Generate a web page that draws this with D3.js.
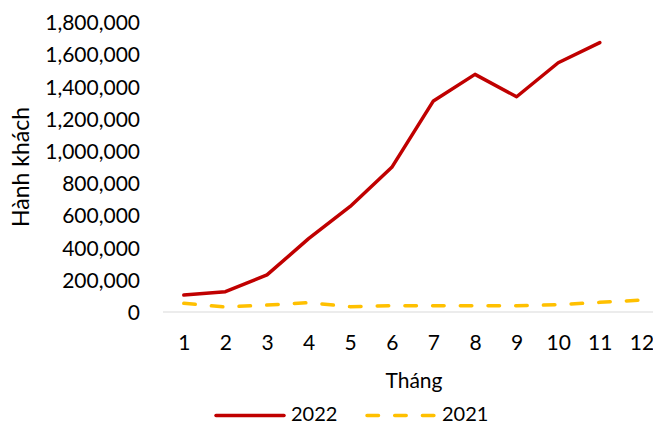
<!DOCTYPE html>
<html>
<head>
<meta charset="utf-8">
<script src="https://cdn.jsdelivr.net/npm/d3@7"></script>
<style>
  html, body { margin: 0; padding: 0; background: #fff; }
  svg text { font-family: Lato, "Open Sans", sans-serif; fill: #000; }
</style>
</head>
<body>
<svg id="chart" width="653" height="425"></svg>
<script>
// Monthly passenger counts
const months = ["1", "2", "3", "4", "5", "6", "7", "8", "9", "10", "11", "12"];
const values2022 = [105000, 126000, 230000, 455000, 655000, 898000, 1310000, 1475000, 1336000, 1547000, 1672000];
const values2021 = [54000, 31000, 43000, 58000, 33000, 39000, 39000, 38000, 39000, 45000, 60000, 74000];
const yTicks = [0, 200000, 400000, 600000, 800000, 1000000, 1200000, 1400000, 1600000, 1800000];
const seriesNames = ["2022", "2021"];
const yTitle = "Hành khách";
const xTitle = "Tháng";

const svg = d3.select("#chart");

const x = d3.scalePoint()
  .domain(months)
  .range([163, 163 + 12 * 41.6])
  .padding(0.5);

const y = d3.scaleLinear()
  .domain([0, 1800000])
  .range([312, 22]);

const fmt = d3.format(",");

// baseline at zero
svg.append("line")
  .attr("x1", 163).attr("x2", 163 + 12 * 41.6)
  .attr("y1", y(0)).attr("y2", y(0))
  .attr("stroke", "#d9d9d9").attr("stroke-width", 1.2);

// y axis tick labels
const yAxis = d3.axisLeft(y).tickValues(yTicks).tickFormat(fmt).tickSize(0).tickPadding(0);
const gy = svg.append("g").attr("transform", "translate(140,0)").call(yAxis);
gy.select(".domain").remove();
gy.selectAll("text")
  .style("font-family", "Lato, 'Open Sans', sans-serif")
  .attr("font-size", 21)
  .attr("dy", "0.36em");

// x axis tick labels
const xAxis = d3.axisBottom(x).tickSize(0).tickPadding(0);
const gx = svg.append("g").attr("transform", "translate(0,335)").call(xAxis);
gx.select(".domain").remove();
gx.selectAll("text")
  .style("font-family", "Lato, 'Open Sans', sans-serif")
  .attr("font-size", 21)
  .attr("dy", "0.72em");

// axis titles
svg.append("text")
  .attr("transform", "translate(29,167) rotate(-90)")
  .attr("text-anchor", "middle")
  .attr("font-size", 23)
  .text(yTitle);

svg.append("text")
  .attr("x", 414).attr("y", 388)
  .attr("text-anchor", "middle")
  .attr("font-size", 21)
  .text(xTitle);

const line = d3.line()
  .x((d, i) => x(months[i]))
  .y(d => y(d));

svg.append("path")
  .datum(values2021)
  .attr("d", line)
  .attr("fill", "none")
  .attr("stroke", "#ffc000")
  .attr("stroke-width", 3.5)
  .attr("stroke-linecap", "round")
  .attr("stroke-linejoin", "round")
  .attr("stroke-dasharray", "11.5,16.2");

svg.append("path")
  .datum(values2022)
  .attr("d", line)
  .attr("fill", "none")
  .attr("stroke", "#c00000")
  .attr("stroke-width", 3.5)
  .attr("stroke-linecap", "round")
  .attr("stroke-linejoin", "round");

// legend
const legend = svg.append("g");
legend.append("line")
  .attr("x1", 216).attr("x2", 284).attr("y1", 415.5).attr("y2", 415.5)
  .attr("stroke", "#c00000").attr("stroke-width", 3.5).attr("stroke-linecap", "round");
legend.append("text")
  .attr("x", 291).attr("y", 421)
  .attr("font-size", 20)
  .text(seriesNames[0]);
legend.append("line")
  .attr("x1", 367).attr("x2", 435).attr("y1", 415.5).attr("y2", 415.5)
  .attr("stroke", "#ffc000").attr("stroke-width", 3.5).attr("stroke-linecap", "round")
  .attr("stroke-dasharray", "11.5,16.2");
legend.append("text")
  .attr("x", 442).attr("y", 421)
  .attr("font-size", 20)
  .text(seriesNames[1]);
</script>
</body>
</html>
